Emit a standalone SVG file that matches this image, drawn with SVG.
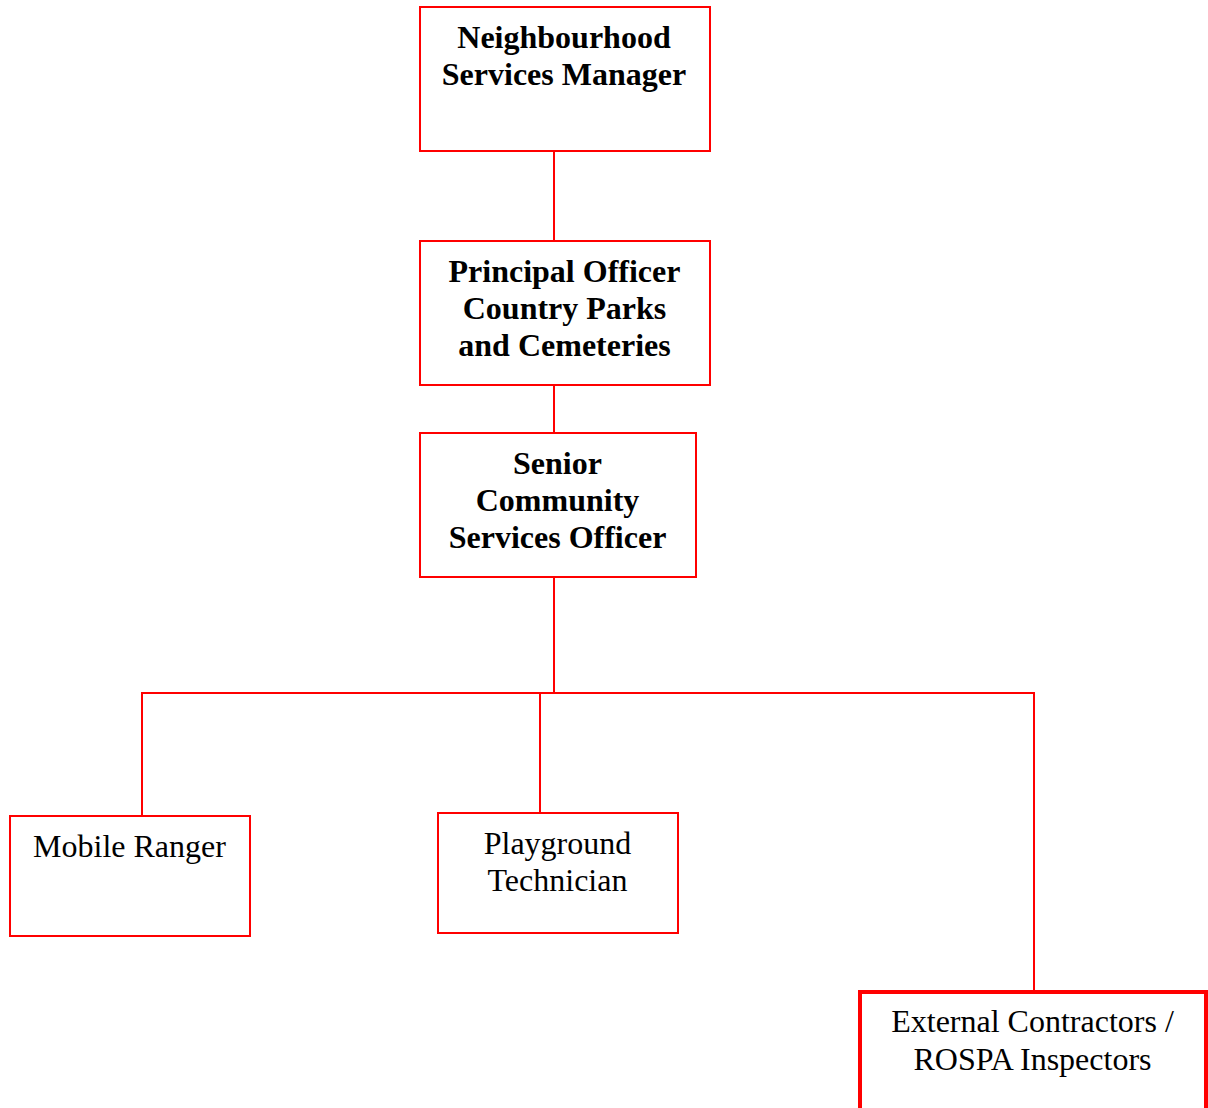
<svg xmlns="http://www.w3.org/2000/svg" width="1208" height="1108" viewBox="0 0 1208 1108">
<style>
.box{fill:#fff;stroke:#ff0000;stroke-width:2}
.thick{stroke-width:4}
.conn{stroke:#ff0000;stroke-width:2;fill:none}
.b{font-family:"Liberation Serif",serif;font-size:32px;font-weight:bold;text-anchor:middle;fill:#000}
.r{font-family:"Liberation Serif",serif;font-size:32px;text-anchor:middle;fill:#000}
</style>
<rect width="1208" height="1108" fill="#fff"/>
<g id="connectors">
<line class="conn" x1="554" y1="151" x2="554" y2="241"/>
<line class="conn" x1="554" y1="385" x2="554" y2="433"/>
<line class="conn" x1="554" y1="577" x2="554" y2="693"/>
<line class="conn" x1="141" y1="693" x2="1035" y2="693"/>
<line class="conn" x1="142" y1="693" x2="142" y2="816"/>
<line class="conn" x1="540" y1="693" x2="540" y2="813"/>
<line class="conn" x1="1034" y1="693" x2="1034" y2="991"/>
</g>
<g id="n1">
<rect class="box" x="420" y="7" width="290" height="144"/>
<text class="b" x="564" y="48">Neighbourhood</text>
<text class="b" x="564" y="85">Services Manager</text>
</g>
<g id="n2">
<rect class="box" x="420" y="241" width="290" height="144"/>
<text class="b" x="564.5" y="282">Principal Officer</text>
<text class="b" x="564.5" y="319">Country Parks</text>
<text class="b" x="564.5" y="356">and Cemeteries</text>
</g>
<g id="n3">
<rect class="box" x="420" y="433" width="276" height="144"/>
<text class="b" x="557.5" y="474">Senior</text>
<text class="b" x="557.5" y="511">Community</text>
<text class="b" x="557.5" y="548">Services Officer</text>
</g>
<g id="n4">
<rect class="box" x="10" y="816" width="240" height="120"/>
<text class="r" x="129.5" y="857">Mobile Ranger</text>
</g>
<g id="n5">
<rect class="box" x="438" y="813" width="240" height="120"/>
<text class="r" x="557.5" y="854">Playground</text>
<text class="r" x="557.5" y="891">Technician</text>
</g>
<g id="n6">
<rect class="box thick" x="860" y="992" width="346" height="130"/>
<text class="r" x="1032.5" y="1032">External Contractors /</text>
<text class="r" x="1032.5" y="1070">ROSPA Inspectors</text>
</g>
</svg>
